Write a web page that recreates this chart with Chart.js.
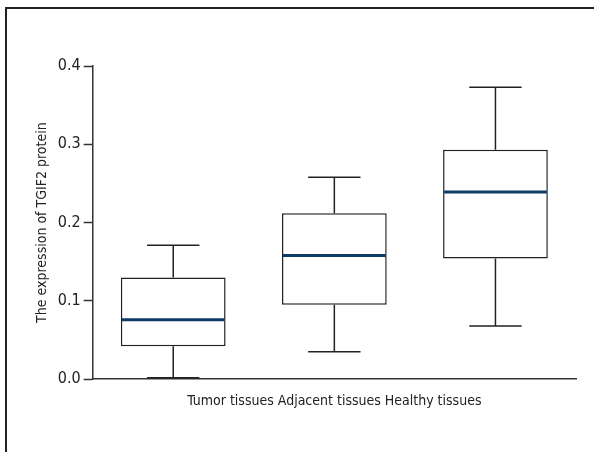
<!DOCTYPE html>
<html>
<head>
<meta charset="utf-8">
<script src="https://cdn.jsdelivr.net/npm/chart.js@4/dist/chart.umd.min.js"></script>
<style>
  html, body { margin: 0; padding: 0; background: #fff; }
  #frame { position: absolute; left: 5px; top: 7px; width: 600px; height: 460px;
           border-left: 2px solid #222; border-top: 2px solid #222; }
  #wrap { position: absolute; left: 0; top: 0; width: 594px; height: 452px; }
</style>
</head>
<body>
<div id="frame"></div>
<div id="wrap"><canvas id="chart" width="594" height="452"></canvas></div>
<script>
// groups and their five-number summaries
const categories = ["Tumor tissues", "Adjacent tissues", "Healthy tissues"];
const mins    = [0.002, 0.035, 0.068];
const q1s     = [0.042, 0.095, 0.154];
const medians = [0.076, 0.158, 0.239];
const q3s     = [0.130, 0.212, 0.293];
const maxs    = [0.171, 0.258, 0.373];
const yTicks  = [0.0, 0.1, 0.2, 0.3, 0.4];

const font = "'DejaVu Sans Condensed', 'Liberation Sans Narrow', sans-serif";

// whiskers + median line, drawn on the bar scales
const boxExtras = {
  id: 'boxExtras',
  afterDatasetsDraw(chart) {
    const ctx = chart.ctx;
    const y = chart.scales.y;
    const meta = chart.getDatasetMeta(0);
    meta.data.forEach((bar, i) => {
      const cx = bar.x;
      const half = bar.width / 2;
      const cap = bar.width / 4;
      ctx.save();
      ctx.strokeStyle = '#222';
      ctx.lineWidth = 1.5;
      ctx.beginPath();
      ctx.moveTo(cx, y.getPixelForValue(q3s[i]));
      ctx.lineTo(cx, y.getPixelForValue(maxs[i]));
      ctx.moveTo(cx - cap, y.getPixelForValue(maxs[i]));
      ctx.lineTo(cx + cap, y.getPixelForValue(maxs[i]));
      ctx.moveTo(cx, y.getPixelForValue(q1s[i]));
      ctx.lineTo(cx, y.getPixelForValue(mins[i]));
      ctx.moveTo(cx - cap, y.getPixelForValue(mins[i]));
      ctx.lineTo(cx + cap, y.getPixelForValue(mins[i]));
      ctx.stroke();
      ctx.strokeStyle = '#0d3a66';
      ctx.lineWidth = 3;
      ctx.beginPath();
      ctx.moveTo(cx - half + 1, y.getPixelForValue(medians[i]));
      ctx.lineTo(cx + half - 1, y.getPixelForValue(medians[i]));
      ctx.stroke();
      ctx.restore();
    });
  }
};

new Chart(document.getElementById('chart'), {
  type: 'bar',
  data: {
    labels: categories,
    datasets: [{
      data: categories.map((c, i) => [q1s[i], q3s[i]]),
      backgroundColor: '#fff',
      borderColor: '#222',
      borderWidth: 1.5,
      borderSkipped: false,
      barPercentage: 0.65,
      categoryPercentage: 1
    }]
  },
  options: {
    responsive: false,
    animation: false,
    layout: { padding: { left: 30, right: 18, top: 66, bottom: 38 } },
    plugins: { legend: { display: false }, tooltip: { enabled: false } },
    scales: {
      x: {
        grid: { display: false, drawTicks: false },
        border: { color: '#333', width: 1.5 },
        ticks: { display: false },
        title: {
          display: true,
          text: categories.join(' '),
          color: '#222',
          font: { family: font, size: 14 },
          padding: { top: 14 }
        }
      },
      y: {
        min: 0, max: 0.4,
        afterBuildTicks: axis => { axis.ticks = yTicks.map(v => ({ value: v })); },
        grid: { display: true, drawOnChartArea: false, drawTicks: true, tickLength: 9, tickColor: '#333', tickWidth: 1.5 },
        border: { color: '#333', width: 1.5 },
        ticks: {
          color: '#222',
          padding: 3,
          font: { family: font, size: 16 },
          callback: v => v.toFixed(1)
        },
        title: {
          display: true,
          text: 'The expression of TGIF2 protein',
          color: '#222',
          font: { family: font, size: 14 },
          padding: { bottom: 4 }
        }
      }
    }
  },
  plugins: [boxExtras]
});
</script>
</body>
</html>
